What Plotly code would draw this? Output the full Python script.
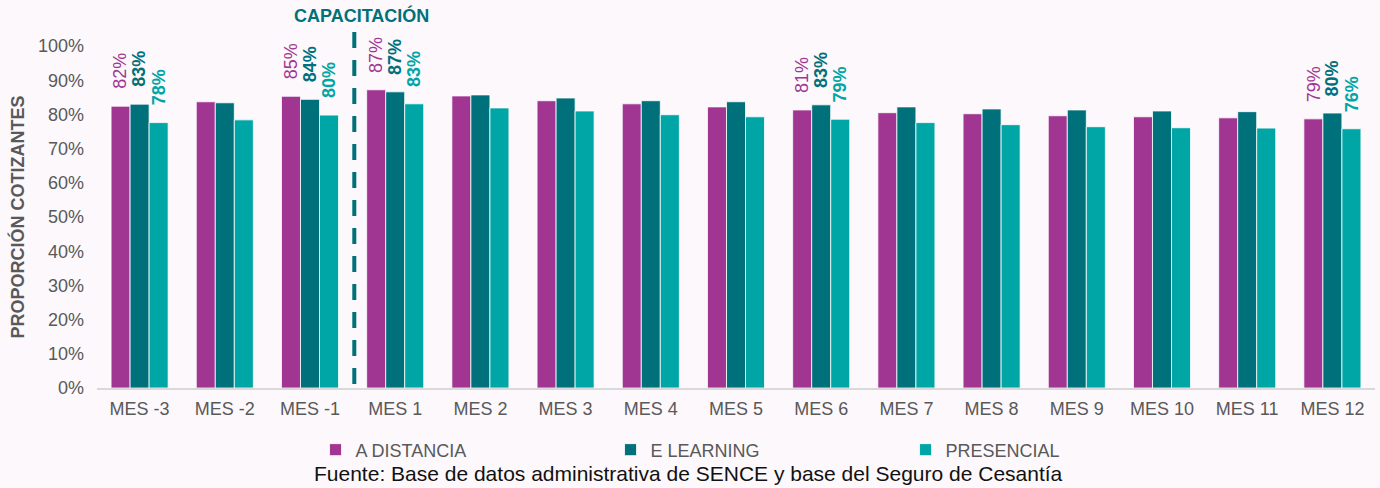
import plotly.graph_objects as go

categories = ["MES -3", "MES -2", "MES -1", "MES 1", "MES 2", "MES 3", "MES 4", "MES 5",
              "MES 6", "MES 7", "MES 8", "MES 9", "MES 10", "MES 11", "MES 12"]
a_distancia = [0.824, 0.837, 0.853, 0.872, 0.854, 0.840, 0.831, 0.822, 0.813, 0.805, 0.802, 0.796, 0.793, 0.790, 0.787]
e_learning = [0.830, 0.834, 0.844, 0.866, 0.857, 0.848, 0.840, 0.837, 0.828, 0.822, 0.816, 0.813, 0.810, 0.808, 0.804]
presencial = [0.776, 0.784, 0.798, 0.831, 0.819, 0.810, 0.799, 0.793, 0.786, 0.776, 0.770, 0.764, 0.761, 0.760, 0.758]
labeled_months = ["MES -3", "MES -1", "MES 1", "MES 6", "MES 12"]
y_ticks = [0, 0.1, 0.2, 0.3, 0.4, 0.5, 0.6, 0.7, 0.8, 0.9, 1.0]

series = [
    ("A DISTANCIA", a_distancia, "#A03691", "normal"),
    ("E LEARNING", e_learning, "#00707A", "bold"),
    ("PRESENCIAL", presencial, "#00A6A6", "bold"),
]

BARGAP = 0.33
FONT = "Liberation Sans, Arial, sans-serif"
BG = "#FCF8FC"

fig = go.Figure()
for name, vals, color, _w in series:
    fig.add_trace(go.Bar(
        x=categories, y=vals, name=name,
        marker=dict(color=color, line=dict(color="#FFFFFF", width=0.8)),
    ))

# value labels (rotated) above selected bars
slot = (1 - BARGAP) / len(series)
for k, (name, vals, color, weight) in enumerate(series):
    off = (k - 1) * slot
    for i, c in enumerate(categories):
        if c in labeled_months:
            fig.add_annotation(
                x=i + off, y=vals[i], xref="x", yref="y",
                text=f"{round(vals[i] * 100)}%", showarrow=False,
                textangle=-90, xanchor="center", yanchor="bottom", yshift=15,
                font=dict(family=FONT, size=18, color=color, weight=weight),
            )

# dashed separator line
fig.add_shape(type="line", xref="x", yref="paper", x0=2.52, x1=2.52, y0=1.041, y1=0,
              line=dict(color="#00707A", width=4, dash="16px,12px"))
fig.add_annotation(x=2.6, y=1.09, xref="x", yref="paper", text="<b>CAPACITACIÓN</b>",
                   showarrow=False, xanchor="center", yanchor="middle",
                   font=dict(family=FONT, size=18, color="#00707A"))
fig.add_annotation(x=0.463, y=-0.249, xref="paper", yref="paper",
                   text="Fuente: Base de datos administrativa de SENCE y base del Seguro de Cesantía",
                   showarrow=False, xanchor="center", yanchor="middle",
                   font=dict(family=FONT, size=21, color="#111111"))

fig.update_layout(
    width=1380, height=488,
    margin=dict(l=97, r=5, t=46, b=100, autoexpand=False),
    paper_bgcolor=BG, plot_bgcolor=BG,
    barmode="group", bargap=BARGAP, bargroupgap=0,
    font=dict(family=FONT, size=18, color="#595959"),
    legend=dict(orientation="h", x=0.171, y=-0.127, xanchor="left", yanchor="top",
                entrywidth=250, entrywidthmode="pixels", itemwidth=30,
                font=dict(family=FONT, size=18, color="#595959"),
                bgcolor="rgba(0,0,0,0)"),
    showlegend=True,
)
fig.update_xaxes(showgrid=False, showline=True, linecolor="#D9D9D9", linewidth=1.5,
                 ticks="", tickfont=dict(family=FONT, size=18, color="#595959"),
                 ticklabelstandoff=4, fixedrange=True)
fig.update_yaxes(range=[0, 1], tickvals=y_ticks, tickformat=".0%", showgrid=False,
                 zeroline=False, showline=False, ticks="", ticklabelstandoff=12,
                 tickfont=dict(family=FONT, size=18, color="#595959"),
                 title=dict(text="<b>PROPORCIÓN COTIZANTES</b>", standoff=8,
                            font=dict(family=FONT, size=18, color="#595959")),
                 fixedrange=True)

fig.write_html(
    "out.html",
    config={"displayModeBar": False},
    post_script=f"document.body.style.margin='0';document.body.style.overflow='hidden';"
                f"document.body.style.background='{BG}';",
)
